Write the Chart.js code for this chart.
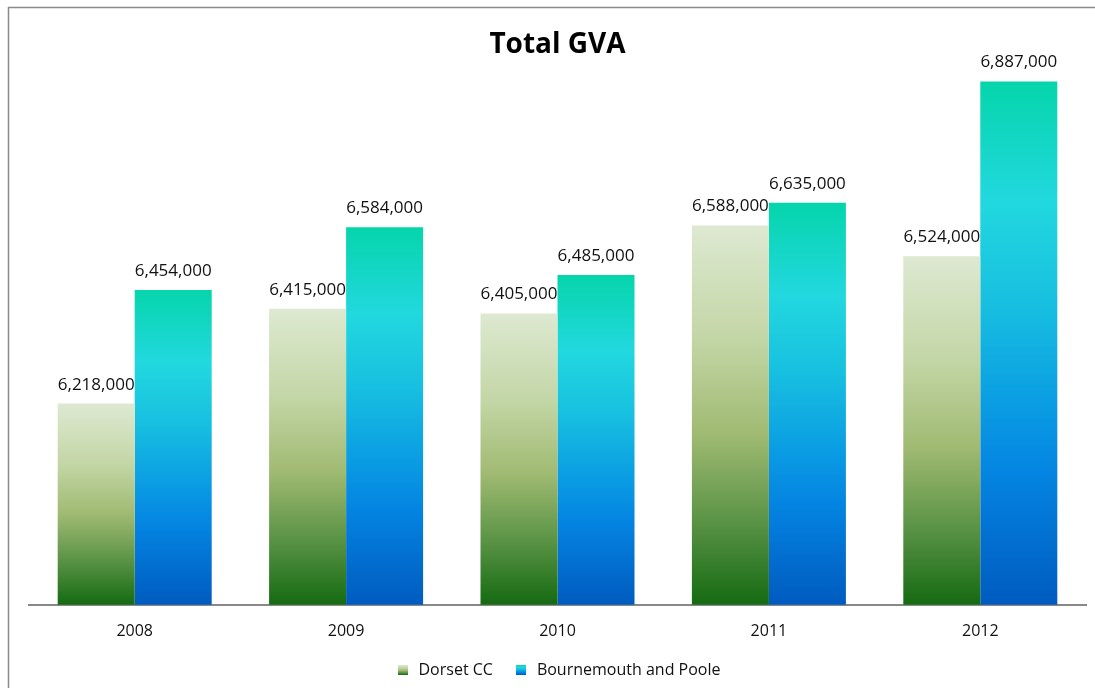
<!DOCTYPE html>
<html>
<head>
<meta charset="utf-8">
<script src="https://cdn.jsdelivr.net/npm/chart.js@4/dist/chart.umd.min.js"></script>
<style>
  html, body { margin: 0; padding: 0; background: #fff; }
  #wrap { width: 1095px; height: 688px; position: relative; }
</style>
</head>
<body>
<div id="wrap"><canvas id="gva"></canvas></div>
<script>
// Total GVA by year
const years = ['2008', '2009', '2010', '2011', '2012'];
const dorsetCC = [6218000, 6415000, 6405000, 6588000, 6524000];
const bournemouthPoole = [6454000, 6584000, 6485000, 6635000, 6887000];
const seriesNames = ['Dorset CC', 'Bournemouth and Poole'];

const FONT = '"Open Sans", "DejaVu Sans", sans-serif';
const AXIS_MIN = 5800000;
const AXIS_MAX = 7000000;

const greenStops = [[0, '#dde9d1'], [0.3, '#c3d6a6'], [0.55, '#a0ba72'], [0.78, '#5a9345'], [1, '#156a12']];
const blueStops = [[0, '#05d5ab'], [0.23, '#22d8df'], [0.42, '#18c0e0'], [0.62, '#0a9ce3'], [0.75, '#0484e2'], [1, '#005bbf']];

// each bar gets its own vertical gradient, top of bar to baseline
function barGradient(stops) {
  return function (ctx) {
    const chart = ctx.chart;
    const y = chart.scales.y;
    if (!chart.chartArea || !y || ctx.parsed == null) return stops[2][1];
    const top = y.getPixelForValue(ctx.parsed.y);
    const bottom = y.getPixelForValue(AXIS_MIN);
    if (!isFinite(top) || !isFinite(bottom) || bottom - top < 1) return stops[2][1];
    const g = chart.ctx.createLinearGradient(0, top, 0, bottom);
    stops.forEach(([p, c]) => g.addColorStop(p, c));
    return g;
  };
}

// small gradient swatch for the legend
function swatch(stops) {
  const c = document.createElement('canvas');
  c.width = 10;
  c.height = 10;
  const cx = c.getContext('2d');
  const g = cx.createLinearGradient(0, 0, 0, 10);
  stops.forEach(([p, col]) => g.addColorStop(p, col));
  cx.fillStyle = g;
  cx.fillRect(0, 0, 10, 10);
  return c;
}

const fmt = v => v.toLocaleString('en-US');

// frame lines, title and value labels
const decorations = {
  id: 'decorations',
  beforeDraw(chart) {
    const ctx = chart.ctx;
    ctx.save();
    ctx.strokeStyle = '#8a8a8a';
    ctx.lineWidth = 1.5;
    ctx.beginPath();
    ctx.moveTo(8.5, chart.height);
    ctx.lineTo(8.5, 7.5);
    ctx.lineTo(chart.width, 7.5);
    ctx.stroke();
    ctx.restore();
  },
  afterDatasetsDraw(chart) {
    const ctx = chart.ctx;
    ctx.save();
    ctx.font = '17px ' + FONT;
    ctx.fillStyle = '#111';
    ctx.textAlign = 'center';
    ctx.textBaseline = 'alphabetic';
    chart.data.datasets.forEach((ds, i) => {
      chart.getDatasetMeta(i).data.forEach((bar, j) => {
        ctx.fillText(fmt(ds.data[j]), bar.x, bar.y - 14);
      });
    });
    const area = chart.chartArea;
    ctx.font = 'bold 28px ' + FONT;
    ctx.fillStyle = '#000';
    ctx.fillText('Total GVA', (area.left + area.right) / 2, 53);
    ctx.restore();
  }
};

new Chart(document.getElementById('gva'), {
  type: 'bar',
  data: {
    labels: years,
    datasets: [
      {
        label: seriesNames[0],
        data: dorsetCC,
        backgroundColor: barGradient(greenStops),
        pointStyle: swatch(greenStops),
        categoryPercentage: 0.7285,
        barPercentage: 1
      },
      {
        label: seriesNames[1],
        data: bournemouthPoole,
        backgroundColor: barGradient(blueStops),
        pointStyle: swatch(blueStops),
        categoryPercentage: 0.7285,
        barPercentage: 1
      }
    ]
  },
  options: {
    responsive: true,
    maintainAspectRatio: false,
    animation: false,
    layout: { padding: { left: 29, right: 9, top: 27, bottom: 0 } },
    scales: {
      x: {
        grid: { display: false, drawTicks: false },
        border: { color: '#888', width: 2 },
        ticks: { color: '#111', font: { family: FONT, size: 16 }, padding: 17 },
        // keep the baseline low, tick labels may hang into the legend band
        afterFit(scale) { scale.height -= 16; }
      },
      y: {
        display: false,
        min: AXIS_MIN,
        max: AXIS_MAX
      }
    },
    plugins: {
      legend: {
        position: 'bottom',
        fullSize: false,
        labels: {
          usePointStyle: true,
          color: '#111',
          font: { family: FONT, size: 16 },
          padding: 20
        }
      },
      tooltip: { enabled: false }
    }
  },
  plugins: [decorations]
});
</script>
</body>
</html>
